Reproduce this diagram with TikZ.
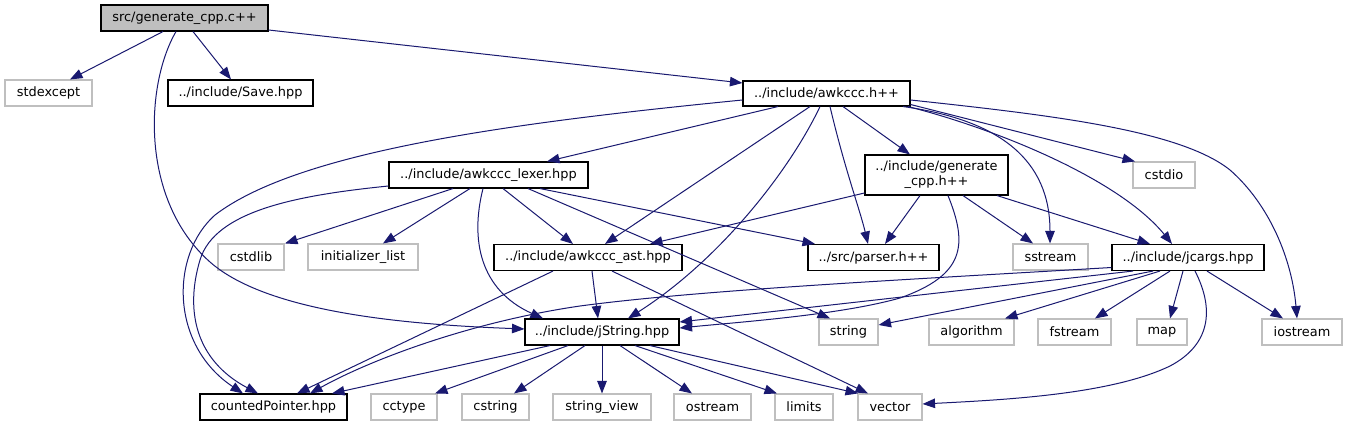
\documentclass[tikz,border=0pt]{standalone}
\usepackage{fontspec}
\setmainfont{DejaVu Sans}
\usetikzlibrary{arrows.meta}
\definecolor{edgec}{RGB}{25,25,112}
\definecolor{extc}{RGB}{191,191,191}
\begin{document}
\begin{tikzpicture}[x=1pt,y=-1pt,
  box/.style={draw=black,fill=white,line width=1.1pt,minimum height=26pt,inner sep=0pt,
    font=\fontsize{12.9pt}{15pt}\selectfont,align=center},
  ext/.style={box,draw=extc},
  root/.style={box,fill=extc},
  lnk/.style={draw=edgec,line width=1pt,-{Triangle[length=12.5pt,width=9.5pt]}}]
\useasboundingbox[fill=white] (0,0) rectangle (1347,425);
% row 0
\node[root,minimum width=167pt] (G) at (184.5,18) {src/generate\_cpp.c++};
% row 1
\node[ext,minimum width=87pt] (sx) at (48.5,93) {stdexcept};
\node[box,minimum width=145pt] (sv) at (240.5,93) {../include/Save.hpp};
\node[box,minimum width=167pt,minimum height=25pt] (A) at (826.5,93.5) {../include/awkccc.h++};
% row 2
\node[box,minimum width=199pt] (L) at (488.5,175) {../include/awkccc\_lexer.hpp};
\node[box,minimum width=143pt,minimum height=40pt] (H) at (936.5,175) {../include/generate\\\_cpp.h++};
\node[ext,minimum width=62pt] (cio) at (1164,175) {cstdio};
% row 3
\node[ext,minimum width=66pt] (clib) at (251,257) {cstdlib};
\node[ext,minimum width=110pt] (il) at (363,257) {initializer\_list};
\node[box,minimum width=188pt] (T) at (588,257.5) {../include/awkccc\_ast.hpp};
\node[box,minimum width=131pt] (P) at (873.5,257.5) {../src/parser.h++};
\node[ext,minimum width=75pt] (ss) at (1050.5,257) {sstream};
\node[box,minimum width=152pt] (J) at (1188,257.5) {../include/jcargs.hpp};
% row 4
\node[box,minimum width=154pt] (S) at (602,332) {../include/jString.hpp};
\node[ext,minimum width=59pt] (str) at (848.5,332) {string};
\node[ext,minimum width=85pt] (alg) at (971.5,332) {algorithm};
\node[ext,minimum width=73pt] (fs) at (1074.5,332) {fstream};
\node[ext,minimum width=50pt] (mp) at (1162,332) {map};
\node[ext,minimum width=80pt] (ios) at (1302,332) {iostream};
% row 5
\node[box,minimum width=147pt] (CP) at (273.5,407) {countedPointer.hpp};
\node[ext,minimum width=66pt] (cct) at (404,407) {cctype};
\node[ext,minimum width=67pt] (cst) at (495.5,407) {cstring};
\node[ext,minimum width=98pt] (sv2) at (602,407) {string\_view};
\node[ext,minimum width=77pt] (os) at (712.5,407) {ostream};
\node[ext,minimum width=58pt] (lim) at (804,407) {limits};
\node[ext,minimum width=64pt] (vec) at (890,407) {vector};
% edges from G
\draw[lnk] ([xshift=-21.5pt]G.south) -- ([xshift=21.5pt]sx.north);
\draw[lnk] ([xshift=8.5pt]G.south) -- ([xshift=-9.5pt]sv.north);
\draw[lnk] ([yshift=-12pt]G.east) -- ([yshift=10.5pt]A.west);
\draw[lnk] ([xshift=-8.5pt]G.south) .. controls (145,85) and (140,200) .. (210,262)
  .. controls (270,315) and (420,325) .. ([yshift=3pt]S.west);
% edges from A
\draw[lnk] ([yshift=-6.5pt]A.west) .. controls (520,122) and (300,150) .. (215,215)
  .. controls (170,255) and (170,345) .. ([xshift=-30.5pt]CP.north);
\draw[lnk] ([xshift=-48.5pt]A.south) -- ([xshift=58.5pt]L.north);
\draw[lnk] ([xshift=-16.5pt]A.south) -- ([xshift=17pt]T.north);
\draw[lnk] ([xshift=-6.5pt]A.south) .. controls (790,170) and (720,260) .. ([xshift=26pt]S.north);
\draw[lnk] ([xshift=3.5pt]A.south) .. controls (845,170) and (860,210) .. ([xshift=-5.5pt]P.north);
\draw[lnk] ([xshift=16.5pt]A.south) -- ([xshift=-26.5pt]H.north);
\draw[lnk] ([xshift=76.5pt]A.south) .. controls (1000,120) and (1050,160) .. ([xshift=-0.5pt]ss.north);
\draw[lnk] ([yshift=-11pt]A.east) -- ([xshift=-29pt]cio.north);
\draw[lnk] ([xshift=81.5pt]A.south) .. controls (1000,130) and (1120,180) .. ([xshift=-16pt]J.north);
\draw[lnk] ([yshift=-6.5pt]A.east) .. controls (1050,115) and (1180,130) .. (1230,170)
  .. controls (1270,205) and (1292,260) .. ([xshift=-5pt]ios.north);
% edges from L
\draw[lnk] ([yshift=-11pt]L.west) .. controls (300,195) and (215,210) .. (200,260)
  .. controls (185,310) and (195,360) .. ([xshift=-15.5pt]CP.north);
\draw[lnk] ([xshift=-35.5pt]L.south) -- ([xshift=34pt]clib.north);
\draw[lnk] ([xshift=-18.5pt]L.south) -- ([xshift=20pt]il.north);
\draw[lnk] ([xshift=-5.5pt]L.south) .. controls (470,240) and (480,290) .. ([xshift=-59pt]S.north);
\draw[lnk] ([xshift=14.5pt]L.south) -- ([xshift=-15pt]T.north);
\draw[lnk] ([xshift=51.5pt]L.south) -- ([xshift=-58.5pt]P.north);
\draw[lnk] ([xshift=39.5pt]L.south) -- ([xshift=-18.5pt]str.north);
% edges from H
\draw[lnk] ([yshift=-18pt]H.west) -- ([xshift=62pt]T.north);
\draw[lnk] ([xshift=-16.5pt]H.south) -- ([xshift=11.5pt]P.north);
\draw[lnk] ([xshift=26.5pt]H.south) -- ([xshift=-17.5pt]ss.north);
\draw[lnk] ([xshift=60.5pt]H.south) -- ([xshift=-38pt]J.north);
\draw[lnk] ([xshift=11.5pt]H.south) .. controls (968,245) and (965,275) .. (900,298)
  .. controls (840,315) and (740,322) .. ([yshift=4pt]S.east);
% edges from T
\draw[lnk] ([xshift=-35pt]T.south) -- ([xshift=23.5pt]CP.north);
\draw[lnk] ([xshift=4pt]T.south) -- ([xshift=-4pt]S.north);
\draw[lnk] ([xshift=24pt]T.south) -- ([xshift=-22pt]vec.north);
% edges from S
\draw[lnk] ([xshift=-52pt]S.south) -- ([xshift=58.5pt]CP.north);
\draw[lnk] ([xshift=-34pt]S.south) -- ([xshift=31pt]cct.north);
\draw[lnk] ([xshift=-17pt]S.south) -- ([xshift=18.5pt]cst.north);
\draw[lnk] (S.south) -- (sv2.north);
\draw[lnk] ([xshift=18pt]S.south) -- ([xshift=-20.5pt]os.north);
\draw[lnk] ([xshift=33pt]S.south) -- ([xshift=-27pt]lim.north);
\draw[lnk] ([xshift=48pt]S.south) -- ([xshift=-32pt]vec.north);
% edges from J
\draw[lnk] ([xshift=-55pt]J.south) -- ([yshift=10pt]S.east);
\draw[lnk] ([yshift=-10pt]J.west) .. controls (900,280) and (700,290) .. (580,306)
  .. controls (470,322) and (370,360) .. ([xshift=36.5pt]CP.north);
\draw[lnk] ([xshift=-35pt]J.south) -- ([yshift=7pt]str.east);
\draw[lnk] ([xshift=-28pt]J.south) -- ([xshift=33.5pt]alg.north);
\draw[lnk] ([xshift=-18pt]J.south) -- ([xshift=20.5pt]fs.north);
\draw[lnk] ([xshift=-5pt]J.south) -- ([xshift=8pt]mp.north);
\draw[lnk] ([xshift=7pt]J.south) .. controls (1215,310) and (1210,345) .. (1170,366)
  .. controls (1110,395) and (1000,400) .. ([yshift=3pt]vec.east);
\draw[lnk] ([xshift=19pt]J.south) -- ([xshift=-19pt]ios.north);
\end{tikzpicture}
\end{document}
